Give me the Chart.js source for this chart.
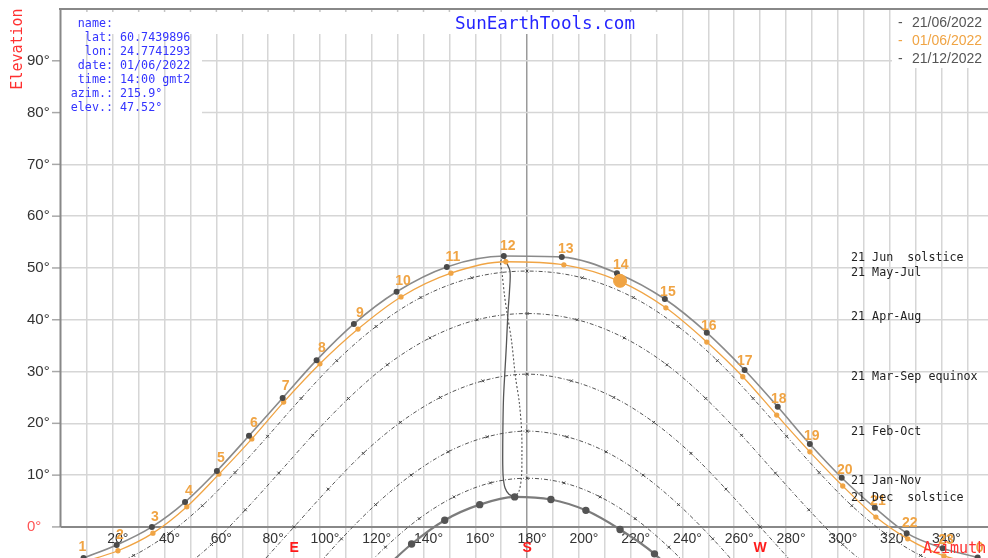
<!DOCTYPE html>
<html><head><meta charset="utf-8">
<script src="https://cdn.jsdelivr.net/npm/chart.js@4/dist/chart.umd.min.js"></script>
<style>html,body{margin:0;padding:0;background:#fff;overflow:hidden}#wrap{width:988px;height:558px;position:relative}</style>
</head><body><div id="wrap"><canvas id="c"></canvas></div>
<script>
// ---- data (azimuth °, elevation °) ----
const hourLabels = ['0','1','2','3','4','5','6','7','8','9','10','11','12','13','14','15','16','17','18','19','20','21','22','23'];
const jun21Az = [354.0, 8.7, 21.5, 35.1, 47.9, 60.2, 72.6, 85.6, 98.7, 113.1, 129.6, 149.0, 171.0, 193.4, 214.7, 233.2, 249.4, 264.0, 276.8, 289.2, 301.5, 314.3, 326.6, 340.5];
const jun21El = [-5.9, -6.0, -3.5, 0.0, 4.8, 10.8, 17.6, 24.9, 32.2, 39.2, 45.4, 50.2, 52.3, 52.1, 49.0, 44.0, 37.5, 30.3, 23.2, 16.0, 9.5, 3.7, -1.2, -4.1];
const jun1Az = [354.0, 7.5, 22.0, 35.5, 48.6, 61.0, 73.7, 86.0, 100.0, 114.7, 131.3, 150.6, 171.8, 194.2, 215.4, 233.6, 249.4, 263.3, 276.4, 289.2, 301.9, 314.7, 327.0, 341.0];
const jun1El = [-7.1, -6.9, -4.6, -1.2, 3.9, 10.2, 17.0, 24.1, 31.5, 38.2, 44.4, 49.0, 51.2, 50.6, 47.5, 42.3, 35.7, 29.0, 21.6, 14.5, 7.9, 1.9, -2.3, -5.6];
const dec21Az = [122.9, 135.4, 148.2, 161.7, 175.2, 189.2, 202.7, 215.9, 229.2, 241.7];
const dec21El = [-9.0, -3.3, 1.3, 4.3, 5.8, 5.3, 3.2, -0.5, -5.2, -11.3];
const mayJulAz = [14.2, 28.1, 41.6, 54.6, 67.2, 79.8, 92.7, 106.5, 121.7, 139.0, 158.7, 180.0, 201.3, 221.0, 238.3, 253.5, 267.3, 280.2, 292.8, 305.4, 318.4, 331.9, 345.8];
const mayJulEl = [-8.2, -5.5, -1.3, 4.1, 10.5, 17.5, 24.8, 32.1, 38.7, 44.3, 48.1, 49.4, 48.1, 44.3, 38.7, 32.1, 24.8, 17.5, 10.5, 4.1, -1.3, -5.5, -8.2];
const aprAugAz = [44.5, 58.1, 71.2, 84.1, 97.2, 111.0, 126.0, 142.5, 160.7, 180.0, 199.3, 217.5, 234.0, 249.0, 262.8, 275.9, 288.8, 301.9, 315.5];
const aprAugEl = [-9.1, -3.4, 3.3, 10.4, 17.7, 24.8, 31.3, 36.5, 40.0, 41.2, 40.0, 36.5, 31.3, 24.8, 17.7, 10.4, 3.3, -3.4, -9.1];
const marSepAz = [76.8, 90.0, 103.2, 116.7, 131.1, 146.5, 162.9, 180.0, 197.1, 213.5, 228.9, 243.3, 256.8, 270.0, 283.2];
const marSepEl = [-7.3, 0.0, 7.3, 14.2, 20.2, 25.0, 28.2, 29.5, 28.2, 25.0, 20.2, 14.2, 7.3, 0.0, -7.3];
const febOctAz = [95.4, 108.3, 121.5, 135.2, 149.5, 164.6, 180.0, 195.4, 210.5, 224.8, 238.5, 251.7, 264.6];
const febOctEl = [-9.5, -2.3, 4.3, 10.0, 14.5, 17.4, 18.5, 17.4, 14.5, 10.0, 4.3, -2.3, -9.5];
const janNovAz = [112.6, 125.3, 138.3, 151.8, 165.8, 180.0, 194.2, 208.2, 221.7, 234.7, 247.4];
const janNovEl = [-10.3, -3.9, 1.6, 5.8, 8.5, 9.4, 8.5, 5.8, 1.6, -3.9, -10.3];
const anaSolidAz = [175.2, 173.0, 171.5, 170.8, 170.6, 170.6, 170.7, 170.9, 171.4, 172.0, 172.6, 173.2, 173.4, 171.8, 171.0];
const anaSolidEl = [5.8, 6.3, 7.5, 9.5, 12.0, 16.0, 20.6, 25.0, 29.7, 35.0, 41.3, 45.5, 49.4, 51.3, 52.3];
const anaDotAz = [171.0, 169.8, 170.4, 171.3, 172.3, 174.0, 175.5, 177.0, 177.9, 178.0, 177.8, 176.8, 175.2];
const anaDotEl = [52.3, 51.2, 48.7, 44.6, 41.2, 35.9, 29.0, 24.0, 18.4, 13.5, 9.4, 6.8, 5.8];
const currentAz = 215.9, currentEl = 47.52;

const curveNames = ['21 Jun  solstice', '21 May-Jul', '21 Apr-Aug', '21 Mar-Sep equinox', '21 Feb-Oct', '21 Jan-Nov', '21 Dec  solstice'];
const curveNameEl = [51.9, 49.0, 40.5, 29.0, 18.3, 8.8, 5.5];
const xTickValues = [20, 40, 60, 80, 100, 120, 140, 160, 180, 200, 220, 240, 260, 280, 300, 320, 340];
const xTickLabels = ['20°', '40°', '60°', '80°', '100°', '120°', '140°', '160°', '180°', '200°', '220°', '240°', '260°', '280°', '300°', '320°', '340°'];
const yTickValues = [0, 10, 20, 30, 40, 50, 60, 70, 80, 90];
const yTickLabels = ['0°', '10°', '20°', '30°', '40°', '50°', '60°', '70°', '80°', '90°'];
const compassValues = [90, 180, 270];
const compassLabels = ['E', 'S', 'W'];
const infoKeys = ['name:', 'lat:', 'lon:', 'date:', 'time:', 'azim.:', 'elev.:'];
const infoVals = ['', '60.7439896', '24.7741293', '01/06/2022', '14:00 gmt2', '215.9°', '47.52°'];
const legendTexts = ['21/06/2022', '01/06/2022', '21/12/2022'];

// ---- helpers ----
const pts = (az, el) => az.map((a, i) => ({x: a, y: el[i]}));
const sortedPts = (az, el) => pts(az, el).sort((p, q) => p.x - q.x);
const ORANGE = '#f0a444';
const MONO = '"DejaVu Sans Mono", "Liberation Mono", monospace';
const SANS = '"Liberation Sans", Arial, sans-serif';

function dotted(az, el) {
  return {data: pts(az, el), showLine: true, borderColor: '#555', borderWidth: 1, borderDash: [4, 2, 1, 2],
    pointStyle: 'crossRot', pointRadius: 2, pointBorderColor: '#444', pointBorderWidth: 1,
    tension: 0.4, cubicInterpolationMode: 'monotone', fill: false};
}

const decor = {
  id: 'decor',
  beforeDatasetsDraw(chart) {
    const {ctx, chartArea: a, scales: {x, y}} = chart;
    const y0 = y.getPixelForValue(0);
    ctx.save();
    ctx.fillStyle = '#fff';
    ctx.fillRect(a.left + 1, a.top + 1, 670 - a.left, 33 - a.top);
    ctx.fillRect(892, a.top + 1, a.right - 892, 67 - a.top);
    // small top ticks in white band
    ctx.strokeStyle = '#c4c4c4'; ctx.lineWidth = 1.5;
    for (let v = 10; v < 360; v += 10) {
      const px = x.getPixelForValue(v);
      if (px < 670) { ctx.beginPath(); ctx.moveTo(px, a.top); ctx.lineTo(px, a.top + 3); ctx.stroke(); }
    }
    // 80 / 90 horizontal grid lines (partial)
    ctx.strokeStyle = '#d6d6d6';
    [[90, 202, 892], [80, 202, a.right]].forEach(([v, x1, x2]) => {
      const py = y.getPixelForValue(v);
      ctx.beginPath(); ctx.moveTo(x1, py); ctx.lineTo(x2, py); ctx.stroke();
    });
    // y tick marks
    ctx.strokeStyle = '#a8a8a8'; ctx.lineWidth = 1.5;
    yTickValues.forEach(v => { const py = y.getPixelForValue(v); ctx.beginPath(); ctx.moveTo(52, py); ctx.lineTo(a.left, py); ctx.stroke(); });
    // borders
    ctx.strokeStyle = '#888'; ctx.lineWidth = 2;
    ctx.beginPath(); ctx.moveTo(59, a.top); ctx.lineTo(a.right, a.top); ctx.stroke();
    ctx.beginPath(); ctx.moveTo(a.left - 0.5, a.top); ctx.lineTo(a.left - 0.5, y0); ctx.stroke();
    ctx.beginPath(); ctx.moveTo(a.left, y0); ctx.lineTo(a.right, y0); ctx.stroke();
    // y labels
    ctx.font = '15px ' + SANS; ctx.textAlign = 'left'; ctx.textBaseline = 'middle';
    yTickValues.forEach((v, i) => { ctx.fillStyle = v === 0 ? '#ff5555' : '#333'; ctx.fillText(yTickLabels[i], 27, y.getPixelForValue(v)); });
    // x labels
    ctx.font = '14px ' + SANS; ctx.fillStyle = '#333'; ctx.textAlign = 'center';
    xTickValues.forEach((v, i) => ctx.fillText(xTickLabels[i], x.getPixelForValue(v) + 5, 539));
    // compass letters
    ctx.font = 'bold 14px ' + SANS; ctx.fillStyle = '#ff1a1a';
    compassValues.forEach((v, i) => ctx.fillText(compassLabels[i], x.getPixelForValue(v), 548));
    ctx.restore();
  },
  afterDatasetsDraw(chart) {
    const {ctx, scales: {x, y}} = chart;
    ctx.save();
    // hour labels
    ctx.font = 'bold 14px ' + SANS; ctx.fillStyle = ORANGE; ctx.textAlign = 'center'; ctx.textBaseline = 'middle';
    hourLabels.forEach((h, i) => ctx.fillText(h, x.getPixelForValue(jun1Az[i]) + 2, y.getPixelForValue(jun1El[i]) - 16));
    // curve names
    ctx.font = '11.7px ' + MONO; ctx.fillStyle = '#222'; ctx.textAlign = 'left';
    curveNames.forEach((n, i) => ctx.fillText(n, 851, y.getPixelForValue(curveNameEl[i])));
    // title
    ctx.font = '17.6px ' + MONO; ctx.fillStyle = '#2424ff'; ctx.textAlign = 'center';
    ctx.fillText('SunEarthTools.com', 545, 24);
    // info
    ctx.font = '11.7px ' + MONO; ctx.fillStyle = '#3333ff';
    infoKeys.forEach((k, i) => {
      const py = 23.5 + 14 * i;
      ctx.textAlign = 'right'; ctx.fillText(k, 113, py);
      ctx.textAlign = 'left'; ctx.fillText(infoVals[i], 120, py);
    });
    // legend
    ctx.font = '14px ' + SANS; ctx.textAlign = 'left';
    const lc = ['#555', ORANGE, '#555'];
    legendTexts.forEach((t, i) => { ctx.fillStyle = lc[i]; const py = 23 + 18 * i; ctx.fillText('-', 898, py); ctx.fillText(t, 912, py); });
    // axis titles
    ctx.font = '15px ' + MONO; ctx.fillStyle = '#ff3030';
    ctx.textAlign = 'left'; ctx.fillText('Azimuth', 923, 549);
    ctx.save(); ctx.translate(18, 49); ctx.rotate(-Math.PI / 2); ctx.textAlign = 'center'; ctx.fillText('Elevation', 0, 0); ctx.restore();
    ctx.restore();
  }
};

const gridAz = []; for (let v = 0; v < 360; v += 10) gridAz.push(v);
const gridEl = []; for (let v = 0; v <= 100; v += 10) gridEl.push(v);

new Chart(document.getElementById('c'), {
  type: 'scatter',
  data: {datasets: [
    {data: [{x: currentAz, y: currentEl}], pointRadius: 6.5, pointBackgroundColor: ORANGE, pointBorderColor: ORANGE, showLine: false},
    {data: sortedPts(jun21Az, jun21El), showLine: true, borderColor: '#8a8a8a', borderWidth: 1.6, pointRadius: 2.2, pointBackgroundColor: '#4a4a4a', pointBorderColor: '#4a4a4a', tension: 0.3, cubicInterpolationMode: 'monotone'},
    {data: sortedPts(jun1Az, jun1El), showLine: true, borderColor: ORANGE, borderWidth: 1.3, pointRadius: 2, pointBackgroundColor: ORANGE, pointBorderColor: ORANGE, tension: 0.3, cubicInterpolationMode: 'monotone'},
    {data: pts(dec21Az, dec21El), showLine: true, borderColor: '#7c7c7c', borderWidth: 2.2, pointRadius: 2.6, pointBackgroundColor: '#555', pointBorderColor: '#555', tension: 0.4, cubicInterpolationMode: 'monotone'},
    {data: pts(anaSolidAz, anaSolidEl), showLine: true, borderColor: '#555', borderWidth: 1.3, pointRadius: 0, tension: 0.3},
    {data: pts(anaDotAz, anaDotEl), showLine: true, borderColor: '#555', borderWidth: 1.1, borderDash: [2, 2], pointRadius: 0, tension: 0.3},
    dotted(mayJulAz, mayJulEl),
    dotted(aprAugAz, aprAugEl),
    dotted(marSepAz, marSepEl),
    dotted(febOctAz, febOctEl),
    dotted(janNovAz, janNovEl)
  ]},
  options: {
    responsive: true, maintainAspectRatio: false, animation: false, devicePixelRatio: 1,
    layout: {autoPadding: false, padding: {top: 9, left: 0, right: 0, bottom: 0}},
    plugins: {legend: {display: false}, tooltip: {enabled: false}},
    events: [],
    scales: {
      x: {type: 'linear', min: 0, max: 358,
        afterBuildTicks: s => { s.ticks = gridAz.map(v => ({value: v})); },
        afterFit: s => { s.height = 0; },
        ticks: {display: false},
        grid: {color: c => c.tick.value === 180 ? '#9a9a9a' : (c.tick.value === 0 ? 'rgba(0,0,0,0)' : '#d6d6d6'), lineWidth: 1.5, drawTicks: false},
        border: {display: false}},
      y: {type: 'linear', min: -6, max: 100,
        afterBuildTicks: s => { s.ticks = gridEl.map(v => ({value: v})); },
        afterFit: s => { s.width = 61; },
        ticks: {display: false},
        grid: {color: c => [0, 80, 90, 100].includes(c.tick.value) ? 'rgba(0,0,0,0)' : '#d6d6d6', lineWidth: 1.5, drawTicks: false},
        border: {display: false}}
    }
  },
  plugins: [decor]
});
</script>
</body></html>
